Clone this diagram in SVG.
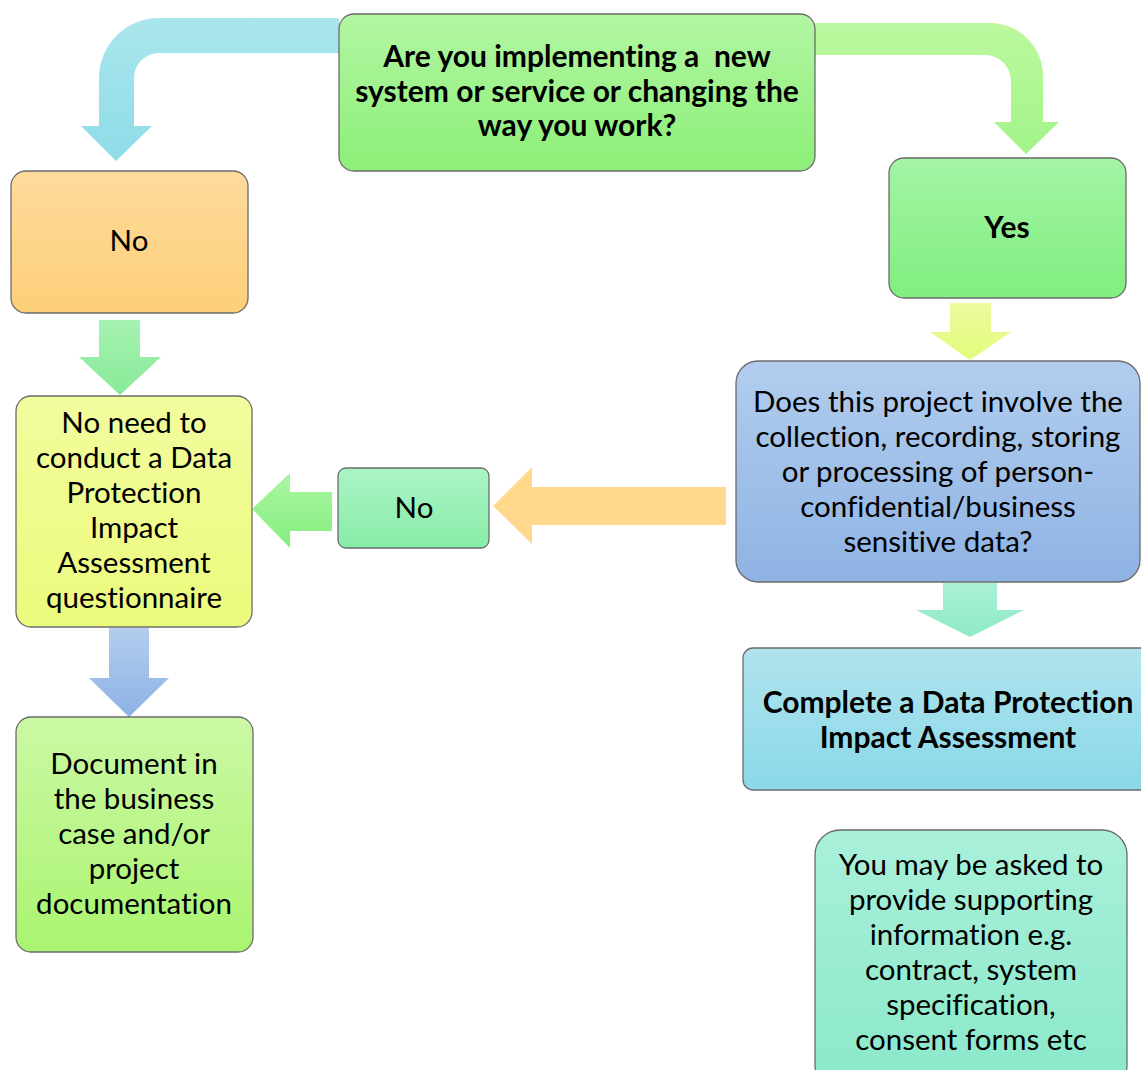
<svg xmlns="http://www.w3.org/2000/svg" width="1141" height="1070" viewBox="0 0 1141 1070">
<defs>
<linearGradient id="gTop" x1="0" y1="0" x2="0" y2="1"><stop offset="0" stop-color="#b2f6a2"/><stop offset="1" stop-color="#8cef78"/></linearGradient>
<linearGradient id="gNo" x1="0" y1="0" x2="0" y2="1"><stop offset="0" stop-color="#fedb9c"/><stop offset="1" stop-color="#fdcf78"/></linearGradient>
<linearGradient id="gNeed" x1="0" y1="0" x2="0" y2="1"><stop offset="0" stop-color="#f2fc9e"/><stop offset="1" stop-color="#ecfa7c"/></linearGradient>
<linearGradient id="gDoc" x1="0" y1="0" x2="0" y2="1"><stop offset="0" stop-color="#cbf8a4"/><stop offset="1" stop-color="#aaf470"/></linearGradient>
<linearGradient id="gYes" x1="0" y1="0" x2="0" y2="1"><stop offset="0" stop-color="#a4f4a4"/><stop offset="1" stop-color="#80ee80"/></linearGradient>
<linearGradient id="gDoes" x1="0" y1="0" x2="0" y2="1"><stop offset="0" stop-color="#b2cdee"/><stop offset="1" stop-color="#8eb3e3"/></linearGradient>
<linearGradient id="gComp" x1="0" y1="0" x2="0" y2="1"><stop offset="0" stop-color="#b0e4ee"/><stop offset="1" stop-color="#8ad8e8"/></linearGradient>
<linearGradient id="gMid" x1="0" y1="0" x2="0" y2="1"><stop offset="0" stop-color="#aaf4c4"/><stop offset="1" stop-color="#88eca8"/></linearGradient>
<linearGradient id="gSup" x1="0" y1="0" x2="0" y2="1"><stop offset="0" stop-color="#aaf0da"/><stop offset="1" stop-color="#8ae8ca"/></linearGradient>
<linearGradient id="aCyan" x1="0" y1="0" x2="0" y2="1"><stop offset="0" stop-color="#aae6ec"/><stop offset="1" stop-color="#8edce8"/></linearGradient>
<linearGradient id="aLime" x1="0" y1="0" x2="0" y2="1"><stop offset="0" stop-color="#bcf8a0"/><stop offset="1" stop-color="#a2f488"/></linearGradient>
<linearGradient id="aMint" x1="0" y1="0" x2="0" y2="1"><stop offset="0" stop-color="#a6f2b2"/><stop offset="1" stop-color="#88ea98"/></linearGradient>
<linearGradient id="aBlue" x1="0" y1="0" x2="0" y2="1"><stop offset="0" stop-color="#b4cdee"/><stop offset="1" stop-color="#8cb2e4"/></linearGradient>
<linearGradient id="aYel" x1="0" y1="0" x2="0" y2="1"><stop offset="0" stop-color="#ecfa9e"/><stop offset="1" stop-color="#e2fc7c"/></linearGradient>
<linearGradient id="aAqua" x1="0" y1="0" x2="0" y2="1"><stop offset="0" stop-color="#aaf0d6"/><stop offset="1" stop-color="#8eeac4"/></linearGradient>
<linearGradient id="aGreen" x1="0" y1="0" x2="0" y2="1"><stop offset="0" stop-color="#aaf6a2"/><stop offset="1" stop-color="#86ee7e"/></linearGradient>
</defs>
<style>
.box{stroke:#6b6b6b;stroke-width:1.3}
.t{font-family:Lato,"Open Sans","Liberation Sans",sans-serif;font-size:29.5px;fill:#000;text-anchor:middle;font-variant-ligatures:none}
.b{font-weight:bold;font-size:30px}
</style>
<rect width="1141" height="1070" fill="#fff"/>
<g id="connectors">
<path d="M339,18 L159,18 A60,60 0 0 0 99,78 L99,126 L81,126 L116,161 L152,126 L134,126 L134,78 A25,25 0 0 1 159,53 L339,53 Z" fill="url(#aCyan)"/>
<path d="M815,23 L990,23 A53,53 0 0 1 1043,76 L1043,122 L1059,122 L1026,154 L994,122 L1011,122 L1011,81 A26,26 0 0 0 985,55 L815,55 Z" fill="url(#aLime)"/>
<path d="M99,320 L140,320 L140,357 L161,357 L120,395 L79,357 L99,357 Z" fill="url(#aMint)"/>
<path d="M109,628 L149,628 L149,678 L169,678 L129,717 L89,678 L109,678 Z" fill="url(#aBlue)"/>
<path d="M950,303 L991,303 L991,332 L1011,332 L970,360 L930,332 L950,332 Z" fill="url(#aYel)"/>
<path d="M943,583 L997,583 L997,610 L1024,610 L970,637 L916,610 L943,610 Z" fill="url(#aAqua)"/>
<path d="M726,487 L532,487 L532,467 L493,506 L532,544 L532,525 L726,525 Z" fill="#ffd88e"/>
<path d="M332,492 L290,492 L290,473 L252,509 L290,548 L290,531 L332,531 Z" fill="url(#aGreen)"/>
</g>
<g id="n-top">
<rect class="box" x="339" y="14" width="476" height="157" rx="15" fill="url(#gTop)"/>
<text class="t b" x="577" y="67" xml:space="preserve">Are you implementing a  new</text>
<text class="t b" x="577" y="102">system or service or changing the</text>
<text class="t b" x="577" y="136">way you work?</text>
</g>
<g id="n-no1">
<rect class="box" x="11" y="171" width="237" height="142" rx="15" fill="url(#gNo)"/>
<text class="t" x="129" y="251">No</text>
</g>
<g id="n-noneed">
<rect class="box" x="16" y="396" width="236" height="231" rx="15" fill="url(#gNeed)"/>
<text class="t" x="134" y="433">No need to</text>
<text class="t" x="134" y="468">conduct a Data</text>
<text class="t" x="134" y="503">Protection</text>
<text class="t" x="134" y="538">Impact</text>
<text class="t" x="134" y="573">Assessment</text>
<text class="t" x="134" y="608">questionnaire</text>
</g>
<g id="n-doc">
<rect class="box" x="16" y="717" width="237" height="235" rx="15" fill="url(#gDoc)"/>
<text class="t" x="134" y="774">Document in</text>
<text class="t" x="134" y="809">the business</text>
<text class="t" x="134" y="844">case and/or</text>
<text class="t" x="134" y="879">project</text>
<text class="t" x="134" y="914">documentation</text>
</g>
<g id="n-yes">
<rect class="box" x="889" y="158" width="237" height="140" rx="15" fill="url(#gYes)"/>
<text class="t b" x="1007" y="238">Yes</text>
</g>
<g id="n-does">
<rect class="box" x="736" y="361" width="404" height="221" rx="22" fill="url(#gDoes)"/>
<text class="t" x="938" y="412">Does this project involve the</text>
<text class="t" x="938" y="447">collection, recording, storing</text>
<text class="t" x="938" y="482">or processing of person-</text>
<text class="t" x="938" y="517">confidential/business</text>
<text class="t" x="938" y="552">sensitive data?</text>
</g>
<g id="n-no2">
<rect class="box" x="338" y="468" width="151" height="80" rx="8" fill="url(#gMid)"/>
<text class="t" x="414" y="518">No</text>
</g>
<g id="n-complete">
<rect class="box" x="743" y="648" width="420" height="142" rx="10" fill="url(#gComp)"/>
<text class="t b" x="948" y="713">Complete a Data Protection</text>
<text class="t b" x="948" y="748">Impact Assessment</text>
</g>
<g id="n-support">
<rect class="box" x="815" y="830" width="312" height="260" rx="25" fill="url(#gSup)"/>
<text class="t" x="971" y="875">You may be asked to</text>
<text class="t" x="971" y="910">provide supporting</text>
<text class="t" x="971" y="945">information e.g.</text>
<text class="t" x="971" y="980">contract, system</text>
<text class="t" x="971" y="1015">specification,</text>
<text class="t" x="971" y="1050">consent forms etc</text>
</g>
</svg>
